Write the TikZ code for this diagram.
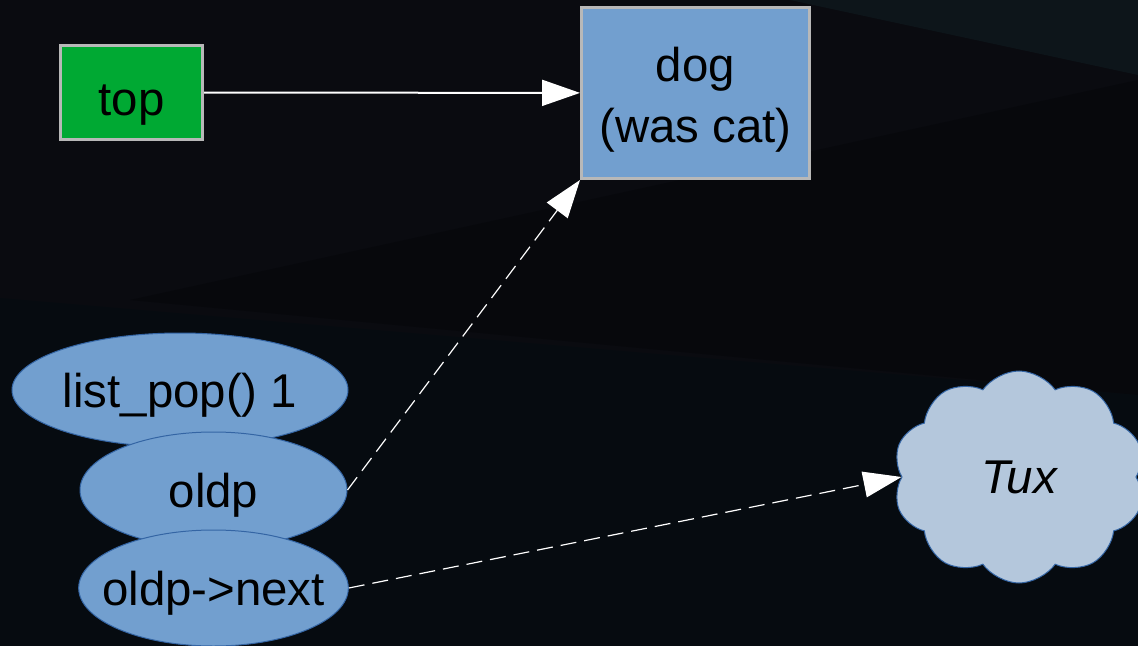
\documentclass[tikz,border=0pt]{standalone}
\usepackage{fontspec}
\setmainfont{Liberation Sans}
\usetikzlibrary{arrows.meta,shapes.geometric,shapes.symbols}
\definecolor{bgtop}{HTML}{0A0B10}
\definecolor{bglow}{HTML}{060B10}
\definecolor{bgband}{HTML}{07080C}
\definecolor{bgcorner}{HTML}{0D151A}
\definecolor{boxgreen}{HTML}{00A933}
\definecolor{boxblue}{HTML}{729FCF}
\definecolor{boxedge}{HTML}{B8B8B8}
\definecolor{ovaledge}{HTML}{3465A4}
\definecolor{cloudblue}{HTML}{B4C7DC}

\begin{document}
\begin{tikzpicture}[x=0.5pt,y=-0.5pt,
txt/.style={font=\fontsize{23.7}{30.5}\selectfont,text=black},
box/.style={txt,draw=boxedge,line width=1.5pt,align=center,inner sep=0pt,text depth=0pt},
oval/.style={txt,ellipse,draw=ovaledge,line width=0.5pt,fill=boxblue,inner sep=0pt,inner xsep=-8pt,
  text depth=0pt,minimum width=133.5pt,minimum height=58pt},
arr/.style={-{Triangle[length=19pt,width=13pt]},white,line width=1pt},
darr/.style={arr,line width=0.6pt,dash pattern=on 8pt off 4pt}]
% backdrop
\useasboundingbox (0,0) rectangle (1138,646);
\fill[bgtop] (0,0) rectangle (1138,646);
\fill[bgcorner] (790,0) -- (1138,0) -- (1138,75) -- cycle;
\fill[bgband] (130,300) -- (1138,80) -- (1138,395) -- cycle;
\fill[bglow] (0,298) -- (1138,395) -- (1138,646) -- (0,646) -- cycle;

\node[box,fill=boxgreen,minimum width=71pt,minimum height=47pt,text height=23pt] (top) at (131.5,92.5) {top};
\node[box,fill=boxblue,minimum width=114pt,minimum height=85.5pt,text height=50pt] (dog) at (695.5,93) {dog\\(was cat)};
\node[oval,minimum width=168pt,minimum height=57pt] (pop) at (180,390) {list\_pop() 1};
\node[oval] (oldp) at (213.5,490) {oldp};
\node[oval] (next) at (213.5,588) {oldp->next};
\node[txt,cloud,cloud puffs=10,cloud puff arc=110,aspect=1.2,draw=ovaledge,line width=0.5pt,
  fill=cloudblue,minimum width=126pt,minimum height=106pt,font=\fontsize{23.7}{28}\selectfont\itshape] (tux) at (1019,477) {Tux};

\draw[arr] (top)--(dog);
\draw[darr] (oldp.east)--(dog.south west);
\draw[darr] (next.east)--(tux.west);
\end{tikzpicture}
\end{document}
